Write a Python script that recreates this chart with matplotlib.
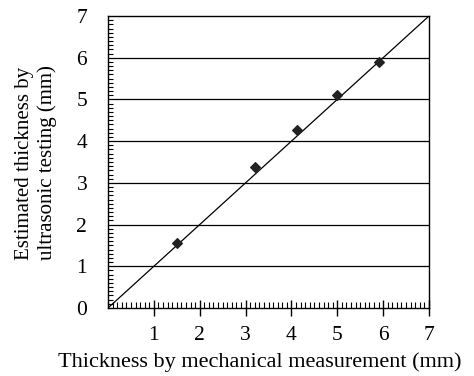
import numpy as np
import matplotlib
matplotlib.use("Agg")
import matplotlib.pyplot as plt
from matplotlib.ticker import MultipleLocator

# Measured values (mm)
mechanical = [1.5, 3.2, 4.12, 5.0, 5.9]
ultrasonic = [1.57, 3.38, 4.26, 5.1, 5.9]
x_ticks = [1, 2, 3, 4, 5, 6, 7]
y_ticks = [0, 1, 2, 3, 4, 5, 6, 7]

plt.rcParams['font.family'] = ['Liberation Serif', 'DejaVu Serif']

W, H = 474, 376
fig = plt.figure(figsize=(W / 100, H / 100), dpi=100)
ax = fig.add_axes([108 / W, 1 - 308 / H, 321 / W, 292 / H])

# gridlines at the major y values
for yv in y_ticks[1:-1]:
    ax.axhline(yv, color='black', linewidth=0.9, zorder=1)

# 1:1 line
ax.plot([0, 7], [0, 7], color='black', linewidth=0.9, zorder=2)

ax.scatter(mechanical, ultrasonic, marker='D', s=24, color='#222222', zorder=3)

ax.set_xlim(0, 7)
ax.set_ylim(0, 7)

ax.set_xticks(x_ticks)
ax.set_yticks(y_ticks)
ax.xaxis.set_minor_locator(MultipleLocator(0.1))
ax.yaxis.set_minor_locator(MultipleLocator(0.1))

ax.tick_params(axis='x', which='major', direction='inout', length=12, width=1.0,
               labelsize=15.5, pad=7)
ax.tick_params(axis='x', which='minor', direction='in', length=4, width=0.8)
ax.tick_params(axis='y', which='major', length=0, labelsize=15.5, pad=15)
ax.tick_params(axis='y', which='minor', direction='in', length=3.5, width=0.8)

for sp in ax.spines.values():
    sp.set_linewidth(1.0)

fig.text(260 / W, 1 - 362 / H, 'Thickness by mechanical measurement (mm)',
         fontsize=16, ha='center', va='center')
fig.text(36 / W, 1 - 163 / H, 'Estimated thickness by\nultrasonic testing (mm)',
         fontsize=15, rotation=90, ha='center', va='center', linespacing=1.25,
         multialignment='center')

fig.savefig('out.png', dpi=100)
